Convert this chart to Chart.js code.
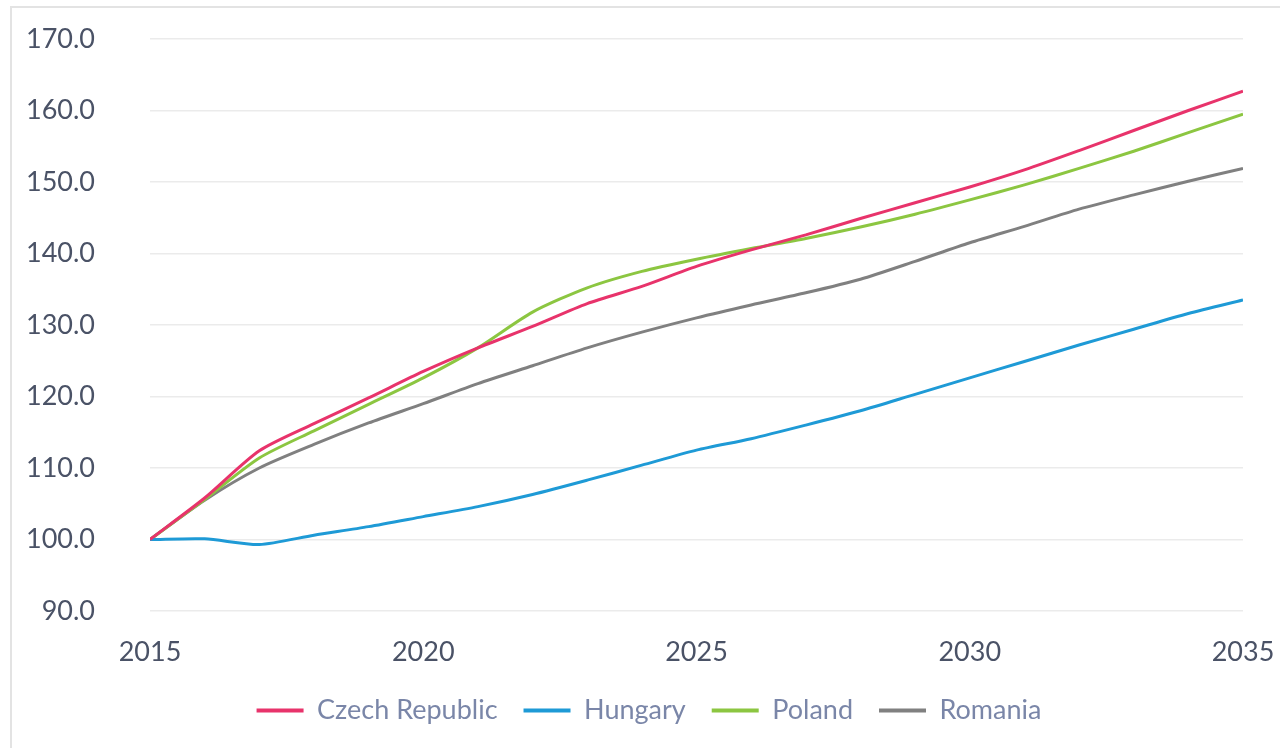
<!DOCTYPE html>
<html>
<head>
<meta charset="utf-8">
<script src="https://cdn.jsdelivr.net/npm/chart.js@4"></script>
<style>
  html, body { margin: 0; padding: 0; background: #fff; }
  #wrap { position: relative; width: 1280px; height: 748px; overflow: hidden; }
  #frame { position: absolute; left: 10px; top: 6px; width: 1300px; height: 800px; border: 2px solid #e3e3e3; }
  #box { position: absolute; left: 0; top: 0; width: 1280px; height: 748px; }
</style>
</head>
<body>
<div id="wrap">
  <div id="frame"></div>
  <div id="box"><canvas id="lineChart"></canvas></div>
</div>
<script>
const years = [2015, 2016, 2017, 2018, 2019, 2020, 2021, 2022, 2023, 2024, 2025,
               2026, 2027, 2028, 2029, 2030, 2031, 2032, 2033, 2034, 2035];

const czech   = [100, 105.8, 112.4, 116.2, 119.8, 123.5, 126.8, 129.8, 133.0, 135.4, 138.2,
                 140.5, 142.6, 144.9, 147.1, 149.3, 151.7, 154.4, 157.2, 160.0, 162.7];
const hungary = [100, 100.1, 99.3, 100.6, 101.8, 103.2, 104.6, 106.3, 108.3, 110.4, 112.5,
                 114.1, 116.0, 118.0, 120.3, 122.6, 124.9, 127.2, 129.4, 131.6, 133.5];
const poland  = [100, 105.6, 111.4, 115.2, 118.9, 122.6, 126.8, 131.8, 135.2, 137.5, 139.2,
                 140.7, 142.1, 143.7, 145.5, 147.5, 149.6, 151.9, 154.3, 156.9, 159.5];
const romania = [100, 105.5, 110.0, 113.3, 116.3, 119.0, 121.8, 124.3, 126.8, 129.0, 131.0,
                 132.8, 134.5, 136.4, 138.9, 141.5, 143.8, 146.2, 148.2, 150.1, 151.9];

const seriesNames = ['Czech Republic', 'Hungary', 'Poland', 'Romania'];
const seriesColors = ['#e8336b', '#1e9ad6', '#8cc641', '#808080'];
const yTicks = [90, 100, 110, 120, 130, 140, 150, 160, 170];
const xTicks = [2015, 2020, 2025, 2030, 2035];

const seriesData = [czech, hungary, poland, romania];

function makeSet(i) {
    return {
        label: seriesNames[i],
        data: years.map((y, k) => ({ x: y, y: seriesData[i][k] })),
        borderColor: seriesColors[i],
        backgroundColor: seriesColors[i],
        borderWidth: 3,
        pointRadius: 0,
        tension: 0.25
    };
}

const tickFont = { family: 'Lato', size: 27 };

// nudge the legend a bit to the right, like the original
const legendShift = {
    id: 'legendShift',
    afterLayout(chart) { chart.legend.left += 27; }
};

new Chart(document.getElementById('lineChart').getContext('2d'), {
    type: 'line',
    data: { datasets: [makeSet(0), makeSet(1), makeSet(2), makeSet(3)] },
    plugins: [legendShift],
    options: {
        responsive: true,
        maintainAspectRatio: false,
        animation: false,
        layout: { padding: { left: 28, right: 37, top: 39, bottom: 14 } },
        plugins: {
            tooltip: { enabled: false },
            legend: {
                position: 'bottom',
                labels: {
                    boxWidth: 47,
                    boxHeight: 4,
                    padding: 26,
                    color: '#7a86a8',
                    font: { family: 'Lato', size: 27 },
                    generateLabels: (chart) =>
                        Chart.defaults.plugins.legend.labels.generateLabels(chart)
                            .map(l => ({ ...l, lineWidth: 0 }))
                }
            }
        },
        scales: {
            x: {
                type: 'linear',
                min: 2015,
                max: 2035,
                afterBuildTicks: (s) => { s.ticks = xTicks.map(v => ({ value: v })); },
                afterFit: (s) => { s.height = 60; s.paddingLeft = 0; s.paddingRight = 0; },
                grid: { display: false, drawTicks: false },
                border: { display: false },
                ticks: {
                    color: '#4a5266',
                    font: tickFont,
                    padding: 25,
                    maxRotation: 0,
                    callback: (v) => String(v)
                }
            },
            y: {
                min: 90,
                max: 170,
                afterBuildTicks: (s) => { s.ticks = yTicks.map(v => ({ value: v })); },
                afterFit: (s) => { s.width = 122; s.paddingTop = 0; s.paddingBottom = 0; },
                grid: { color: '#ebebeb', lineWidth: 1.5, drawTicks: false },
                border: { display: false },
                ticks: {
                    color: '#4a5266',
                    font: tickFont,
                    padding: 55,
                    callback: (v) => Number(v).toFixed(1)
                }
            }
        }
    }
});
</script>
</body>
</html>
